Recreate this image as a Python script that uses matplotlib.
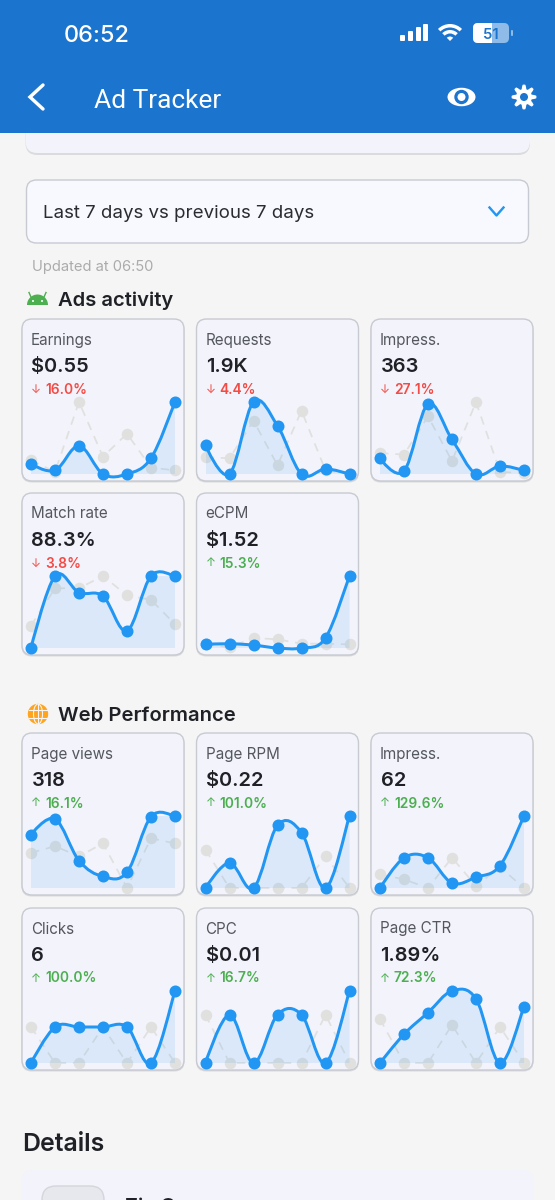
import numpy as np
import matplotlib
matplotlib.use("Agg")
import matplotlib.pyplot as plt
from matplotlib.patches import FancyBboxPatch, Rectangle, Circle, Wedge, PathPatch, Polygon, Ellipse
from matplotlib.path import Path

# =========================================
# DATA
# =========================================
W, H = 555, 1200

ads_titles = ["Earnings", "Requests", "Impress.", "Match rate", "eCPM"]
ads_values = ["$0.55", "1.9K", "363", "88.3%", "$1.52"]
ads_deltas = ["16.0%", "4.4%", "27.1%", "3.8%", "15.3%"]
ads_up = [False, False, False, False, True]
ads_current = [
    [0.14, 0.05, 0.39, 0.0, 0.0, 0.22, 1.0],
    [0.40, 0.0, 1.0, 0.67, 0.0, 0.07, 0.0],
    [0.22, 0.04, 0.97, 0.48, 0.0, 0.11, 0.05],
    [0.0, 1.0, 0.77, 0.72, 0.24, 1.0, 1.0],
    [0.05, 0.06, 0.04, 0.0, 0.0, 0.14, 1.0],
]
ads_previous = [
    [0.19, 0.03, 1.0, 0.24, 0.56, 0.09, 0.05],
    [0.23, 0.22, 0.74, 0.12, 0.88, 0.05, 0.0],
    [0.29, 0.27, 0.80, 0.18, 1.0, 0.03, 0.01],
    [0.31, 0.83, 0.83, 1.0, 0.73, 0.67, 0.33],
    [0.05, 0.01, 0.14, 0.12, 0.06, 0.06, 0.05],
]

web_titles = ["Page views", "Page RPM", "Impress.", "Clicks", "CPC", "Page CTR"]
web_values = ["318", "$0.22", "62", "6", "$0.01", "1.89%"]
web_deltas = ["16.1%", "101.0%", "129.6%", "100.0%", "16.7%", "72.3%"]
web_up = [True, True, True, True, True, True]
web_current = [
    [0.74, 0.96, 0.38, 0.16, 0.22, 0.99, 1.0],
    [0.0, 0.35, 0.0, 0.87, 0.77, 0.0, 1.0],
    [0.0, 0.42, 0.42, 0.07, 0.15, 0.31, 1.0],
    [0.0, 0.5, 0.5, 0.5, 0.5, 0.0, 1.0],
    [0.0, 0.67, 0.0, 0.67, 0.67, 0.0, 1.0],
    [0.0, 0.40, 0.70, 1.0, 0.89, 0.0, 0.78],
]
web_previous = [
    [0.49, 0.58, 0.44, 0.62, 0.0, 0.69, 0.62],
    [0.53, 0.0, 0.0, 0.0, 0.0, 0.44, 0.0],
    [0.19, 0.12, 0.0, 0.42, 0.03, 0.29, 0.0],
    [0.5, 0.0, 0.0, 0.5, 0.0, 0.5, 0.0],
    [0.67, 0.0, 0.0, 0.0, 0.0, 0.67, 0.0],
    [0.61, 0.0, 0.0, 0.53, 0.0, 0.5, 0.0],
]
days = [0, 1, 2, 3, 4, 5, 6]

# =========================================
# STYLE
# =========================================
BLUE_BAR = "#1B74CE"
BLUE = "#2196F3"
BG = "#F5F5F5"
CARD = "#F2F3FB"
EDGE = "#C8CAD2"
GREY = "#E0E0DE"
INK = "#1F2126"
GREEN = "#4CAF50"
RED = "#F44B45"
PX = 0.72  # px to pt at dpi 100

plt.rcParams["font.family"] = ["Inter", "DejaVu Sans"]

fig = plt.figure(figsize=(W / 100, H / 100), dpi=100, facecolor=BG)
ui = fig.add_axes([0, 0, 1, 1], zorder=0)
ui.set_xlim(0, W)
ui.set_ylim(H, 0)
ui.axis("off")


# =========================================
# HELPERS
# =========================================
def rounded(x0, y0, x1, y1, r, face, edge="none", lw=0.0, z=1):
    box = FancyBboxPatch((x0 + r, y0 + r), x1 - x0 - 2 * r, y1 - y0 - 2 * r,
                         boxstyle=f"round,pad={r},rounding_size={r}",
                         fc=face, ec=edge, lw=lw, zorder=z)
    ui.add_patch(box)


def label(x, y, s, px, color=INK, weight="normal", **kw):
    kw.setdefault("va", "center_baseline")
    ui.text(x, y, s, fontsize=px * PX, color=color, fontweight=weight, **kw)


def smooth_path(xs, ys, smoothness=0.35):
    # cubic segments the way the app's chart library bends its lines
    pts = np.column_stack([xs, ys]).astype(float)
    verts = [pts[0]]
    codes = [Path.MOVETO]
    temp = np.zeros(2)
    n = len(pts)
    for i in range(1, n):
        prev, cur, nxt = pts[i - 1], pts[i], pts[min(i + 1, n - 1)]
        c1 = prev + temp
        temp = (nxt - prev) / 2 * smoothness
        c2 = cur - temp
        verts += [c1, c2, cur]
        codes += [Path.CURVE4] * 3
    return verts, codes


def sparkline(x0, x1, base, current, previous):
    ax = fig.add_axes([x0 / W, 1 - base / H, (x1 - x0) / W, 72 / H], zorder=2)
    ax.set_xlim(days[0], days[-1])
    ax.set_ylim(0, 1)
    ax.axis("off")
    ax.plot(days, previous, color=GREY, lw=1.7 * PX, ls=(0, (5, 4)),
            marker="o", ms=11.5 * PX, mec="none", clip_on=False, zorder=1)
    verts, codes = smooth_path(days, current)
    fill_v = verts + [(days[-1], 0), (days[0], 0), verts[0]]
    fill_c = codes + [Path.LINETO, Path.LINETO, Path.CLOSEPOLY]
    ax.add_patch(PathPatch(Path(fill_v, fill_c), fc=BLUE, ec="none", alpha=0.11, zorder=2))
    ax.add_patch(PathPatch(Path(verts, codes), fc="none", ec=BLUE, lw=3 * PX,
                           capstyle="round", clip_on=False, zorder=3))
    ax.plot(days, current, ls="none", marker="o", ms=12 * PX, color=BLUE, mec="none",
            clip_on=False, zorder=4)


def card(x0, y0, title, value, delta, up, current, previous):
    x1, y1 = x0 + 162, y0 + 162
    rounded(x0 - 0.5, y0 + 1.5, x1 + 0.5, y1 + 1.5, 10, "#DADADD", z=1)
    rounded(x0, y0, x1, y1, 10, CARD, EDGE, 1.0, z=2)
    label(x0 + 9, y0 + 19.5, title, 15.2, "#55575F", zorder=3)
    label(x0 + 9.5, y0 + 46, value, 20, INK, "semibold", zorder=3)
    color = GREEN if up else RED
    label(x0 + 9, y0 + 69, "↑" if up else "↓", 12, color, zorder=3)
    label(x0 + 23, y0 + 69, delta, 13.8, color, "semibold", zorder=3)
    sparkline(x0 + 9, x0 + 153, y0 + 155, current, previous)


# =========================================
# PAGE
# =========================================
ui.add_patch(Rectangle((0, 0), W, 133, fc=BLUE_BAR, ec="none", zorder=5))
label(64, 33, "06:52", 23.5, "white", "medium", zorder=6)
label(94, 98, "Ad Tracker", 26.2, "white", "normal", zorder=6, family=["Roboto", "DejaVu Sans"])

# status bar
for bx, top in zip([400, 408, 416, 423], [35, 31, 27, 24]):
    rounded(bx, top, bx + 5, 41, 1, "white", z=6)
for r_out, r_in in [(17, 13.5), (11, 7.5)]:
    ui.add_patch(Wedge((450, 41), r_out, 225, 315, width=r_out - r_in, fc="white", ec="none", zorder=6))
ui.add_patch(Wedge((450, 41), 4.5, 225, 315, fc="white", ec="none", zorder=6))
rounded(473, 23, 509, 43, 5, "#8FBBE8", z=6)
rounded(473, 23, 491, 43, 5, "white", z=6)
ui.add_patch(Rectangle((486, 23), 6, 20, fc="white", ec="none", zorder=6))
label(491, 33.5, "51", 15, BLUE_BAR, "semibold", ha="center", zorder=7)
rounded(511, 30, 513, 36, 1, "#8FBBE8", z=6)

# back, eye, gear
ui.plot([43, 30, 43], [85, 97, 109], color="white", lw=3.4 * PX, solid_capstyle="round",
        solid_joinstyle="miter", zorder=6)
ui.add_patch(Ellipse((461.5, 97), 28, 18.5, fc="white", ec="none", zorder=6))
ui.add_patch(Circle((461.5, 97), 7.2, fc=BLUE_BAR, ec="none", zorder=7))
ui.add_patch(Circle((461.5, 97), 4, fc="white", ec="none", zorder=8))
ang = np.linspace(0, 2 * np.pi, 193)
gear_r = 10.2 + 2.2 * np.clip(1.4 * np.cos(8 * ang), -1, 1)
ui.add_patch(Polygon(np.column_stack([524 + gear_r * np.cos(ang), 97 + gear_r * np.sin(ang)]),
                     fc="white", ec="none", zorder=6))
ui.add_patch(Circle((524, 97), 4, fc=BLUE_BAR, ec="none", zorder=7))

# top card and dropdown
rounded(25.5, 110, 530, 155, 12, "#DBDBDD", z=1)
rounded(25.5, 110, 530, 153, 12, CARD, z=2)
rounded(26.5, 180, 528.5, 243, 10, "#F8F9FE", EDGE, 1.0)
label(43, 211, "Last 7 days vs previous 7 days", 18.7, "#2A2C31", zorder=3)
ui.plot([489.5, 496.5, 503.5], [207.5, 215.5, 207.5], color=BLUE, lw=2.4 * PX, zorder=3)
label(32, 265, "Updated at 06:50", 14.7, "#ABABAD", zorder=3)

# section heads
ui.add_patch(Wedge((37.5, 305), 10.5, 180, 360, fc=GREEN, ec="none", zorder=3))
ui.plot([31, 29], [297, 292.5], color=GREEN, lw=1, zorder=3)
ui.plot([44, 46], [297, 292.5], color=GREEN, lw=1, zorder=3)
ui.add_patch(Circle((33, 301), 1, fc="white", ec="none", zorder=4))
ui.add_patch(Circle((42, 301), 1, fc="white", ec="none", zorder=4))
label(58, 299, "Ads activity", 20.2, INK, "semibold", zorder=3)

ui.add_patch(Circle((38, 714), 10.2, fc="#FFA41C", ec="none", zorder=3))
ui.add_patch(Ellipse((38, 714), 9, 20, fc="none", ec="#F5F5F5", lw=0.8, zorder=4))
for gy in (710, 718):
    ui.plot([28.5, 47.5], [gy, gy], color="#F5F5F5", lw=0.8, zorder=4)
ui.plot([38, 38], [704, 724], color="#F5F5F5", lw=0.8, zorder=4)
label(58, 714, "Web Performance", 20.2, INK, "semibold", zorder=3)

# cards
col_x = [22, 196.5, 371]
ads_rows = [319, 493]
web_rows = [733, 908]

for i in range(len(ads_titles)):
    card(col_x[i % 3], ads_rows[i // 3], ads_titles[i], ads_values[i], ads_deltas[i],
         ads_up[i], ads_current[i], ads_previous[i])

for i in range(len(web_titles)):
    card(col_x[i % 3], web_rows[i // 3], web_titles[i], web_values[i], web_deltas[i],
         web_up[i], web_current[i], web_previous[i])

# details
label(22, 1142, "Details", 24.8, INK, "semibold", zorder=3)
rounded(21, 1170, 534, 1240, 12, CARD, z=2)
rounded(42, 1186, 104, 1250, 14, "#E7E8EE", "#D5D6DC", 1.0, z=3)
label(125, 1205, "Zin Q", 20, INK, "semibold", zorder=3)

fig.savefig("out.png", dpi=100, facecolor=BG)
